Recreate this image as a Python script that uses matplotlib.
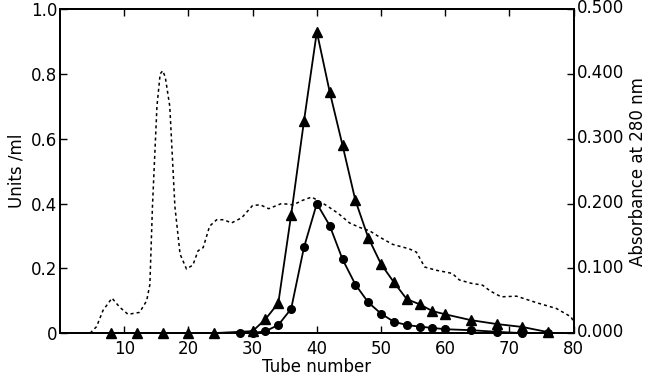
import matplotlib
matplotlib.use("Agg")
import matplotlib.pyplot as plt
import matplotlib.transforms as mtransforms

# activity (units/ml), triangles
tube_tri = [8, 12, 16, 20, 24, 30, 32, 34, 36, 38, 40, 42, 44, 46, 48, 50,
            52, 54, 56, 58, 60, 64, 68, 72, 76]
units_tri = [0, 0, 0, 0, 0, 0.006, 0.043, 0.093, 0.365, 0.655, 0.93, 0.745,
             0.58, 0.41, 0.295, 0.213, 0.157, 0.105, 0.089, 0.068, 0.058,
             0.04, 0.028, 0.019, 0.003]

# activity (units/ml), circles
tube_circ = [28, 30, 32, 34, 36, 38, 40, 42, 44, 46, 48, 50, 52, 54, 56, 58,
             60, 64, 68, 72, 76]
units_circ = [0, 0, 0.006, 0.025, 0.075, 0.265, 0.40, 0.332, 0.228, 0.15,
              0.095, 0.06, 0.035, 0.025, 0.02, 0.016, 0.012, 0.009, 0.004,
              0.0, 0.0]

# absorbance at 280 nm (dotted)
tube_abs = [4.7, 5.7, 6.7, 8.1, 9.3, 10.6, 12.4, 13.5, 14.0, 14.4,
            15.1, 15.6, 16.0, 16.4, 17.1, 17.9, 18.7, 19.7, 20.7, 21.5,
            22.3, 23.3, 24.4, 25.5, 26.7, 28.3, 30.0, 31.2, 32.5, 34.5,
            36.3, 37.8, 39.2, 40.1, 41.5, 43.3, 45.1, 46.7, 48.2, 49.8,
            51.8, 54.4, 55.5, 56.8, 58.6, 60.2, 61.1, 62.2, 64.0, 65.8,
            67.0, 68.7, 71.1, 74.2, 77.3, 79.6, 80.0]
absorb = [0.000, 0.010, 0.035, 0.054, 0.040, 0.029, 0.032, 0.050, 0.075, 0.195,
          0.350, 0.400, 0.405, 0.395, 0.350, 0.195, 0.122, 0.099, 0.105, 0.127,
          0.132, 0.165, 0.175, 0.175, 0.170, 0.178, 0.197, 0.198, 0.192, 0.200,
          0.198, 0.205, 0.210, 0.205, 0.197, 0.185, 0.170, 0.163, 0.158, 0.148,
          0.137, 0.130, 0.125, 0.102, 0.097, 0.094, 0.092, 0.082, 0.077, 0.074,
          0.065, 0.056, 0.057, 0.047, 0.038, 0.025, 0.017]

x_ticks = [10, 20, 30, 40, 50, 60, 70, 80]
left_ticks = [0, 0.2, 0.4, 0.6, 0.8, 1.0]
left_labels = ["0", "0.2", "0.4", "0.6", "0.8", "1.0"]
right_ticks = [0, 0.1, 0.2, 0.3, 0.4, 0.5]
right_labels = ["0.000", "0.100", "0.200", "0.300", "0.400", "0.500"]

plt.rcParams['font.family'] = ['DejaVu Sans']

fig = plt.figure(figsize=(6.47, 3.82), dpi=100)
ax = fig.add_axes([0.0927, 0.128, 0.794, 0.848])
ax2 = ax.twinx()

ax2.plot(tube_abs, absorb, color='black', lw=1.1, ls=(0, (2, 2)))
ax.plot(tube_tri, units_tri, color='black', lw=1.3, marker='^', ms=7,
        zorder=3, clip_on=False)
ax.plot(tube_circ, units_circ, color='black', lw=1.3, marker='o', ms=5.5,
        zorder=3, clip_on=False)

ax.set_xlim(0, 80)
ax.set_ylim(0, 1.0)
ax2.set_ylim(0, 0.5)

ax.set_xticks(x_ticks)
ax.set_yticks(left_ticks)
ax.set_yticklabels(left_labels)
ax2.set_yticks(right_ticks)
ax2.set_yticklabels(right_labels)

ax.tick_params(axis='x', direction='in', length=5, width=1, top=True,
               labelsize=12, pad=5)
ax.tick_params(axis='y', direction='in', length=5, width=1, labelsize=12, pad=2)
ax2.tick_params(axis='y', direction='in', length=5, width=1, labelsize=12, pad=2)

# nudge the right-hand labels up a touch so "0.000" clears "80"
shift = mtransforms.ScaledTranslation(0, 2 / 72, fig.dpi_scale_trans)
for lab in ax2.get_yticklabels():
    lab.set_transform(lab.get_transform() + shift)

for a in (ax, ax2):
    for s in a.spines.values():
        s.set_linewidth(1.3)

ax.set_xlabel("Tube number", fontsize=12, labelpad=0)
ax.set_ylabel("Units /ml", fontsize=12, labelpad=4)
ax2.set_ylabel("Absorbance at 280 nm", fontsize=12, rotation=90, labelpad=4)

fig.savefig("out.png", dpi=100)
